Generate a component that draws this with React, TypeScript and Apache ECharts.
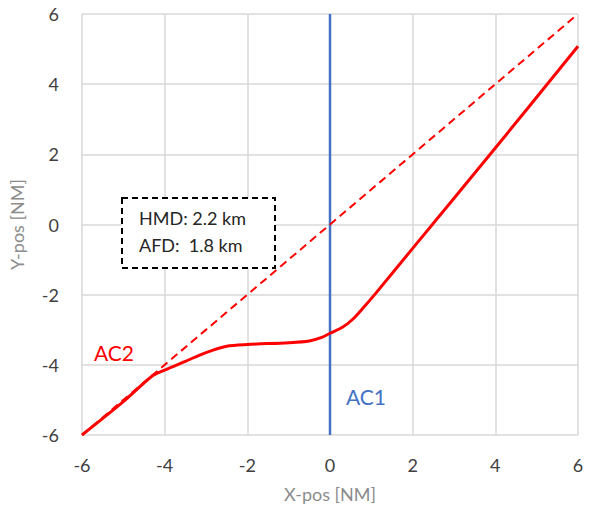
import React, { useEffect, useRef } from "react";
import * as echarts from "echarts";

const xTicks = [-6, -4, -2, 0, 2, 4, 6];
const ac2X = [-6, -5, -4.3, -4, -3.5, -3, -2.5, -2, -1, -0.5, -0.2, 0, 0.3, 0.55, 0.8, 1.1, 2, 4, 6];
const ac2Y = [-6, -5.05, -4.32, -4.15, -3.9, -3.65, -3.47, -3.42, -3.37, -3.32, -3.22, -3.1, -2.93, -2.7, -2.38, -1.97, -0.68, 2.18, 5.08];
const refX = [-6, 5.9];
const refY = [-6, 5.9];
const ac1X = [0, 0];
const ac1Y = [-6, 6];
const boxLines = ["HMD: 2.2 km", "AFD:  1.8 km"];

export default function App() {
  const ref = useRef<HTMLDivElement>(null);
  useEffect(() => {
    if (!ref.current) return;
    const chart = echarts.init(ref.current, null, { renderer: "svg" });
    const font = "Lato, 'Open Sans', sans-serif";
    chart.setOption({
      animation: false,
      grid: { left: 81, right: 17, top: 14, bottom: 76 },
      xAxis: {
        type: "value",
        min: -6,
        max: 6,
        interval: 2,
        name: "X-pos [NM]",
        nameLocation: "middle",
        nameGap: 50,
        nameTextStyle: { color: "#8C8C8C", fontSize: 18, fontFamily: font },
        axisLine: { show: false },
        axisTick: { show: false },
        axisLabel: { color: "#404040", fontSize: 18, fontFamily: font, margin: 21 },
        splitLine: { show: true, lineStyle: { color: "#D9D9D9", width: 1.5 } },
      },
      yAxis: {
        type: "value",
        min: -6,
        max: 6,
        interval: 2,
        name: "Y-pos [NM]",
        nameLocation: "middle",
        nameGap: 56,
        nameTextStyle: { color: "#8C8C8C", fontSize: 18, fontFamily: font },
        axisLine: { show: false },
        axisTick: { show: false },
        axisLabel: { color: "#404040", fontSize: 18, fontFamily: font, margin: 23 },
        splitLine: { show: true, lineStyle: { color: "#D9D9D9", width: 1.5 } },
      },
      series: [
        {
          type: "line",
          data: ac1X.map((x, i) => [x, ac1Y[i]]),
          showSymbol: false,
          lineStyle: { color: "#4472C4", width: 2.5 },
          z: 2,
        },
        {
          type: "line",
          data: refX.map((x, i) => [x, refY[i]]),
          showSymbol: false,
          lineStyle: { color: "#FF0000", width: 2, type: [8, 5] },
          z: 3,
        },
        {
          type: "line",
          data: ac2X.map((x, i) => [x, ac2Y[i]]),
          showSymbol: false,
          smooth: 0.3,
          lineStyle: { color: "#FF0000", width: 3 },
          z: 4,
        },
      ],
      graphic: [
        {
          type: "rect",
          shape: { x: 122, y: 198, width: 153, height: 70 },
          style: { fill: "#FFFFFF", stroke: "#000000", lineWidth: 2, lineDash: [6, 4] },
          z: 10,
        },
        {
          type: "text",
          x: 139,
          y: 209,
          style: { text: boxLines[0], fill: "#262626", font: `18px ${font}` },
          z: 11,
        },
        {
          type: "text",
          x: 139,
          y: 236,
          style: { text: boxLines[1], fill: "#262626", font: `18px ${font}` },
          z: 11,
        },
        {
          type: "text",
          x: 94,
          y: 342,
          style: { text: "AC2", fill: "#FF0000", font: `21px ${font}` },
          z: 11,
        },
        {
          type: "text",
          x: 346,
          y: 386,
          style: { text: "AC1", fill: "#4472C4", font: `21px ${font}` },
          z: 11,
        },
      ],
    });
    return () => chart.dispose();
  }, []);
  return <div ref={ref} style={{ position: "absolute", left: 0, top: 0, width: 595, height: 511 }} />;
}
